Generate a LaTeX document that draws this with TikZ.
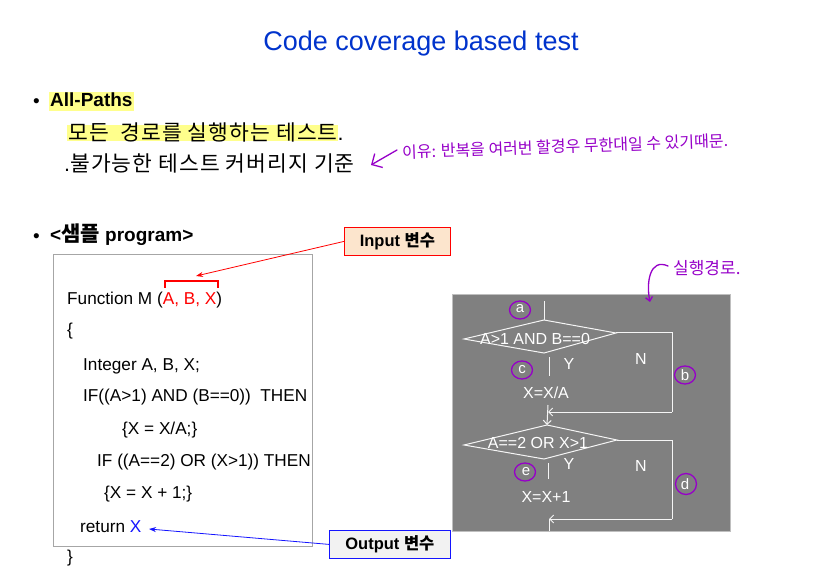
\documentclass[tikz,border=0pt]{standalone}
\usepackage{fontspec}
\setmainfont{Liberation Sans}
\newfontfamily\kr{Noto Sans CJK KR}
\newfontfamily\krwide[LetterSpace=5]{Noto Sans CJK KR}
\usetikzlibrary{arrows.meta,shapes.geometric}
\definecolor{titleblue}{RGB}{0,51,204}
\definecolor{hlyellow}{RGB}{255,255,140}
\definecolor{pen}{RGB}{150,0,200}
\definecolor{panelgray}{RGB}{128,128,128}
\definecolor{inbox}{RGB}{252,229,205}
\definecolor{outbox}{RGB}{242,242,242}
\definecolor{codered}{RGB}{255,0,0}
\definecolor{codeblue}{RGB}{20,20,255}
\begin{document}
\begin{tikzpicture}[x=1pt,y=-1pt,
  titletext/.style={font=\fontsize{27}{32}\selectfont,text=titleblue,inner sep=0pt},
  body/.style={anchor=west,inner sep=0pt,font=\fontsize{19}{22}\selectfont},
  krbody/.style={anchor=west,inner sep=0pt,font=\krwide\fontsize{21.5}{24}\selectfont},
  code/.style={anchor=west,inner sep=0pt,font=\fontsize{17.2}{20}\selectfont},
  fc/.style={text=white,font=\fontsize{16}{18}\selectfont,inner sep=0pt},
  fline/.style={draw=white!92!gray,line width=1pt},
  farrow/.style={fline,-{Straight Barb[length=4pt,width=8pt]}},
  pcirc/.style={draw=pen,line width=1.3pt,ellipse,minimum width=21pt,minimum height=18pt},
  penline/.style={draw=pen,line width=1.3pt,line cap=round},
  penfont/.style={text=pen,inner sep=0pt,font=\kr\fontsize{16}{18}\selectfont},
  varbox/.style={draw,line width=0.8pt,minimum width=#1,minimum height=28pt,inner sep=0pt,font=\bfseries\fontsize{16.5}{19}\selectfont}
]
\useasboundingbox (0,0) rectangle (836,572);

% title
\node[titletext] (title) at (421,44) {Code coverage based test};

% bullet 1
\fill[hlyellow] (49,92) rectangle (134,111);
\fill[hlyellow] (67,125) rectangle (338,141);
\node[body] (b1) at (33,103) {\textbullet};
\node[body,font=\bfseries\fontsize{19}{22}\selectfont] (allpaths) at (50,100) {All-Paths};
\node[krbody] (l1) at (68,132) {모든\ \ 경로를 실행하는 테스트{\rmfamily.}};
\node[krbody] (l2) at (64,163) {{\rmfamily.}불가능한 테스트 커버리지 기준};

% handwritten note
\coordinate (pa1) at (397,150);
\coordinate (pa2) at (371,165);
\draw[penline,-{Straight Barb[length=8pt,width=16pt]}] (pa1) -- (pa2);
\node[penfont,anchor=west,rotate=2] (note) at (402,152) {이유: 반복을 여러번 할경우 무한대일 수 있기때문.};

% bullet 2
\node[body] (b2) at (33,238) {\textbullet};
\node[body,font=\bfseries\fontsize{19}{22}\selectfont] (sample) at (50,235) {<{\kr\fontsize{21}{24}\selectfont 샘플} program>};

% code box
\draw[draw=black!35,line width=0.8pt] (53,254) rectangle (312,546);
\node[code] (c1) at (67,300) {Function M ({\color{codered}A, B, X})};
\node[code] (c2) at (67,331) {\{};
\node[code] (c3) at (83,366) {Integer A, B, X;};
\node[code] (c4) at (83,397) {IF((A>1) AND (B==0))\ \ THEN};
\node[code] (c5) at (122,430) {\{X = X/A;\}};
\node[code] (c6) at (97,462) {IF ((A==2) OR (X>1)) THEN};
\node[code] (c7) at (104,494) {\{X = X + 1;\}};
\node[code] (c8) at (80,527) {return {\color{codeblue}X}};
\node[code] (c9) at (67,558) {\}};

% input bracket and box
\coordinate (br1) at (165,288);
\coordinate (br2) at (218,288);
\draw[codered,line width=1.2pt] (br1) -- ++(0,-7) -| (br2);
\coordinate (brtip) at (196,276);
\node[varbox=106pt,draw=codered,fill=inbox,anchor=north west] (inbox) at (344,227) {Input {\kr 변수}};
\draw[codered,line width=0.8pt,-{Stealth[length=7pt,width=5pt]}] (inbox.west) -- (brtip);

% output box
\node[varbox=121pt,draw=codeblue,fill=outbox,anchor=north west] (outbox) at (329,530) {Output {\kr 변수}};
\coordinate (xtip) at (149,529);
\draw[codeblue,line width=0.8pt,-{Stealth[length=7pt,width=5pt]}] (outbox.west) -- (xtip);

% flowchart panel
\fill[panelgray] (452,294) rectangle (730,531);
\draw[draw=black!25,line width=0.8pt] (452,294) rectangle (730,531);

% diamond 1
\coordinate (d1t) at (544,320);
\coordinate (d1r) at (616,333);
\coordinate (d1b) at (544,353);
\coordinate (d1l) at (464,339);
\coordinate (top0) at (544,301);
\draw[fline] (top0) -- (d1t);
\draw[fline] (d1t) -- (d1r) -- (d1b) -- (d1l) -- cycle;
\node[fc] (cond1) at (535,339) {A>1 AND B==0};
\coordinate (y1a) at (549,357);
\coordinate (y1b) at (549,376);
\draw[fline] (y1a) -- (y1b);
\node[fc] (s1) at (546,393) {X=X/A};
\coordinate (n1a) at (672,333);
\coordinate (n1b) at (672,412);
\coordinate (m1) at (548,412);
\coordinate (s1b) at (548,405);
\draw[fline] (d1r) -- (n1a) -- (n1b);
\draw[farrow] (n1b) -- (m1);
\node[fc] (y1) at (569,364) {Y};
\node[fc] (n1) at (641,359) {N};

% diamond 2
\coordinate (d2t) at (547,425);
\coordinate (d2r) at (617,440);
\coordinate (d2b) at (544,459);
\coordinate (d2l) at (464,445);
\draw[farrow] (s1b) -- (d2t);
\draw[fline] (d2t) -- (d2r) -- (d2b) -- (d2l) -- cycle;
\node[fc] (cond2) at (538,443) {A==2 OR X>1};
\coordinate (y2a) at (548,463);
\coordinate (y2b) at (548,479);
\draw[fline] (y2a) -- (y2b);
\node[fc] (s2) at (546,497) {X=X+1};
\coordinate (n2a) at (672,440);
\coordinate (n2b) at (672,519);
\coordinate (m2) at (549,519);
\coordinate (bot) at (549,531);
\draw[fline] (d2r) -- (n2a) -- (n2b);
\draw[farrow] (n2b) -- (m2);
\draw[fline] (m2) -- (bot);
\node[fc] (y2) at (569,464) {Y};
\node[fc] (n2) at (641,466) {N};

% path labels with hand circles
\node[fc,font=\fontsize{15}{17}\selectfont] (la) at (520,309) {a};
\node[fc,font=\fontsize{15}{17}\selectfont] (lc) at (522,370) {c};
\node[fc,font=\fontsize{15}{17}\selectfont] (lb) at (685,375) {b};
\node[fc,font=\fontsize{15}{17}\selectfont] (le) at (526,472) {e};
\node[fc,font=\fontsize{15}{17}\selectfont] (ld) at (685,484) {d};
\node[pcirc] (ca) at (520,310) {};
\node[pcirc] (cc) at (522,370) {};
\node[pcirc] (cb) at (685,375) {};
\node[pcirc] (ce) at (525,472) {};
\node[pcirc,minimum height=21pt] (cd) at (686,484) {};

% handwritten "실행경로."
\node[penfont,anchor=west,font=\kr\fontsize{17}{19}\selectfont] (path) at (673,268) {실행경로.};
\coordinate (pc1) at (668,266);
\coordinate (pc2) at (650,302);
\draw[penline,-{Straight Barb[length=4pt,width=7pt]}] (pc1) .. controls (650,258) and (646,282) .. (pc2);
\end{tikzpicture}
\end{document}
